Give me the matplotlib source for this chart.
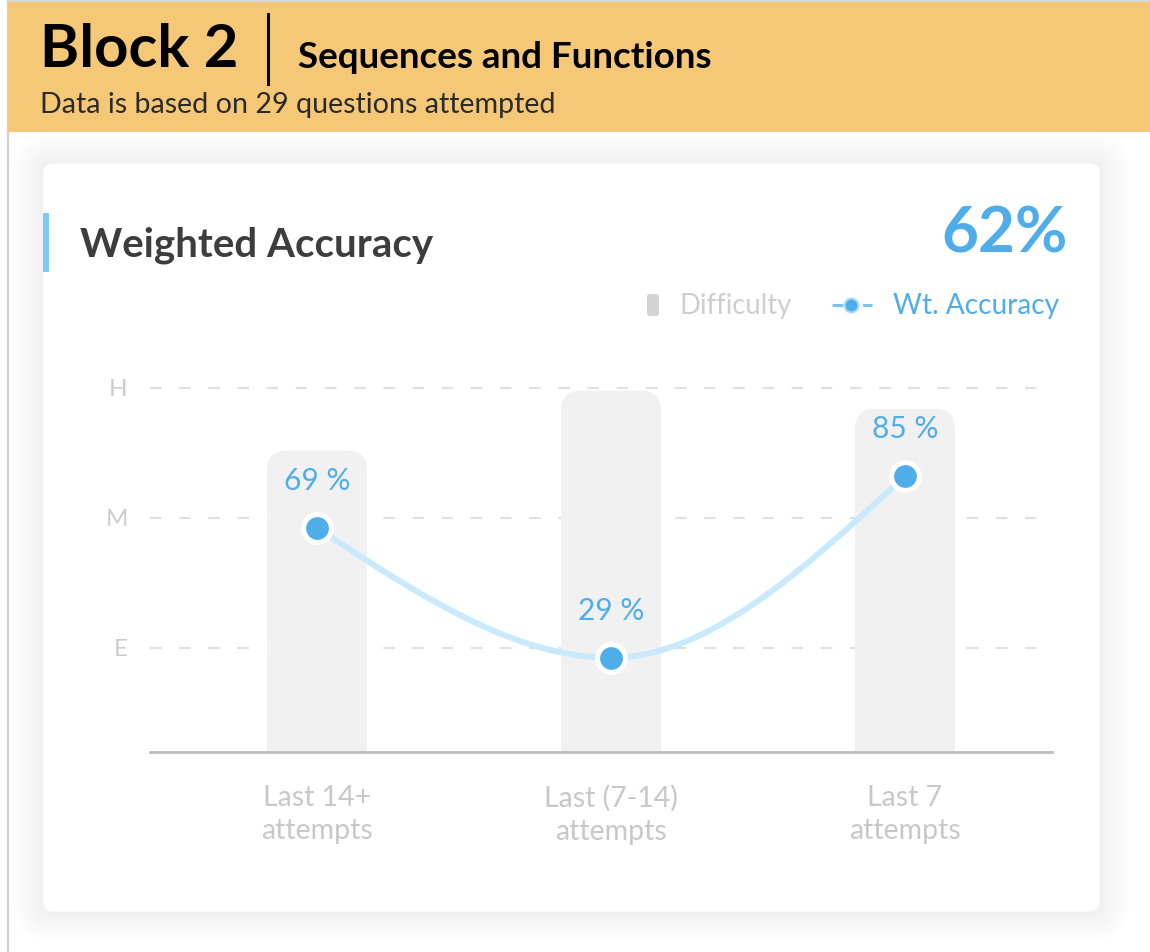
import matplotlib
matplotlib.use("Agg")
import matplotlib.pyplot as plt
import numpy as np
from matplotlib.patches import FancyBboxPatch, Rectangle
from matplotlib.lines import Line2D
from matplotlib.transforms import IdentityTransform

plt.rcParams['font.family'] = ['Lato', 'DejaVu Sans']

# data
categories = ["Last 14+\nattempts", "Last (7-14)\nattempts", "Last 7\nattempts"]
difficulty = [2.52, 2.98, 2.84]          # 1 = E, 2 = M, 3 = H
accuracy = [69, 29, 85]                  # weighted accuracy, %
level_ticks = [1, 2, 3]
level_labels = ["E", "M", "H"]
overall = 62
n_questions = 29
block_name = "Block 2"
block_topic = "Sequences and Functions"

W, H = 1150, 952
fig = plt.figure(figsize=(W / 100, H / 100), dpi=100)
fig.patch.set_facecolor("white")


def fx(x):
    return x / W


def fy(y):
    return 1 - y / H


def px_patch(x0, y0, x1, y1, r, z, **kw):
    # rounded box given in image pixels (y down)
    p = FancyBboxPatch((x0, H - y1), x1 - x0, y1 - y0,
                       boxstyle=f"round,pad=0,rounding_size={r}",
                       transform=IdentityTransform(), zorder=z, **kw)
    fig.add_artist(p)
    return p


# card with soft shadow
for i in range(14):
    g = 30 - i * 2.1
    px_patch(43 - g, 163 - g, 1100 + g, 912 + g, 10 + g, 0.1,
             facecolor="#000000", alpha=0.0026, lw=0)
px_patch(43, 163, 1100, 912, 10, 0.2, facecolor="white", edgecolor="#f4f4f4", lw=0.8)

# outer panel border + header band
fig.add_artist(Line2D([fx(8), fx(8)], [fy(0), fy(952)], color="#cfcfcf", lw=1.5,
                      zorder=3))
fig.add_artist(Rectangle((fx(8), fy(132)), fx(1150 - 8), 132 / H,
                         transform=fig.transFigure, color="#f5c878", lw=0, zorder=3))
fig.add_artist(Line2D([fx(8), fx(1150)], [fy(1), fy(1)], color="#d8d8d8", lw=1.5,
                      zorder=3))

fig.text(fx(40), fy(50), block_name, fontsize=43, fontweight="bold",
         color="black", va="center", ha="left", zorder=4)
fig.add_artist(Line2D([fx(268), fx(268)], [fy(14), fy(84)], color="black", lw=2.2,
                      zorder=4))
fig.text(fx(298), fy(58), block_topic, fontsize=26.5, fontweight="bold",
         color="black", va="center", ha="left", zorder=4)
fig.text(fx(40), fy(105), f"Data is based on {n_questions} questions attempted",
         fontsize=20.6, color="#2a2a2a", va="center", ha="left", zorder=4)

# card header
fig.add_artist(Rectangle((fx(43), fy(272)), fx(6), (272 - 213) / H,
                         transform=fig.transFigure, color="#7ecbf5", lw=0, zorder=3))
fig.text(fx(80), fy(245), "Weighted Accuracy", fontsize=29, fontweight="bold",
         color="#3d3d3d", va="center", ha="left", zorder=4)
fig.text(fx(1068), fy(234), f"{overall}%", fontsize=46, fontweight="bold",
         color="#4fadea", va="center", ha="right", zorder=4)

# legend
px_patch(647, 294, 659, 316, 3, 3, facecolor="#d3d3d3", lw=0)
fig.text(fx(680), fy(306), "Difficulty", fontsize=19.8, color="#cfcfcf",
         va="center", ha="left", zorder=4)
fig.add_artist(Line2D([fx(832), fx(872)], [fy(305), fy(305)], color="#7cc4f0",
                      lw=2.2, dashes=(3.5, 6.5), zorder=4))
fig.add_artist(Line2D([fx(851)], [fy(305)], marker="o", ms=10, color="#4fadea",
                      mec="#a9dafa", mew=1.5, zorder=4))
fig.text(fx(893), fy(306), "Wt. Accuracy", fontsize=20.2, color="#4fadea",
         va="center", ha="left", zorder=4)

# plot area
ax = fig.add_axes([fx(150), fy(752), fx(902), (752 - 362) / H])
ax.set_zorder(5)
x = np.arange(len(categories))
xlo, xhi = -167 / 294, (1052 - 317) / 294
d_lo, d_hi = 0.2, 3.2
ax.set_xlim(xlo, xhi)
ax.set_ylim(d_lo, d_hi)
ax.set_facecolor("none")
for s in ["top", "right", "left"]:
    ax.spines[s].set_visible(False)
ax.spines["bottom"].set_color("#bdbdbd")
ax.spines["bottom"].set_linewidth(2)
ax.spines["bottom"].set_zorder(5)

ax.set_yticks(level_ticks)
ax.set_yticklabels(level_labels, fontsize=17.5, color="#cccccc")
ax.tick_params(axis="y", length=0, pad=16)
ax.set_xticks(x)
ax.set_xticklabels(categories, fontsize=20.5, color="#c8c8c8", linespacing=1.3)
ax.tick_params(axis="x", length=0, pad=24)
for t in level_ticks:
    ax.axhline(t, color="#e0e0e0", lw=1.5, dashes=(5.5, 8.5), zorder=0)

# difficulty bars with rounded tops
bw = 100 / 294
px_per_x = 294
px_per_d = 130
r = 20 / px_per_x
for xi, d in zip(x, difficulty):
    bar = FancyBboxPatch((xi - bw / 2, d_lo - 0.3), bw, d - d_lo + 0.3,
                         boxstyle=f"round,pad=0,rounding_size={r}",
                         mutation_aspect=px_per_x / px_per_d,
                         facecolor="#f1f1f1", lw=0, zorder=1)
    ax.add_patch(bar)

# accuracy on a twin axis
ax2 = ax.twinx()
ax2.set_zorder(6)
ax2.set_ylim(0, 120)
ax2.set_xlim(xlo, xhi)
ax2.axis("off")

# monotone cubic (d3 monotoneX style) through the points
xs = x.astype(float)
ys = np.array(accuracy, dtype=float)
h = np.diff(xs)
s = np.diff(ys) / h
m = np.zeros_like(ys)
for i in range(1, len(ys) - 1):
    if s[i - 1] * s[i] > 0:
        p = (s[i - 1] * h[i] + s[i] * h[i - 1]) / (h[i - 1] + h[i])
        m[i] = np.sign(s[i]) * min(abs(s[i - 1]), abs(s[i]), 0.5 * abs(p))
m[0] = (3 * s[0] - m[1]) / 2
m[-1] = (3 * s[-1] - m[-2]) / 2
cx, cy = [], []
for i in range(len(xs) - 1):
    t = np.linspace(0, 1, 60)
    h00 = 2 * t**3 - 3 * t**2 + 1
    h10 = t**3 - 2 * t**2 + t
    h01 = -2 * t**3 + 3 * t**2
    h11 = t**3 - t**2
    cx.append(xs[i] + t * h[i])
    cy.append(h00 * ys[i] + h10 * h[i] * m[i] + h01 * ys[i + 1] + h11 * h[i] * m[i + 1])
ax2.plot(np.concatenate(cx), np.concatenate(cy), color="#c8eafc", lw=4.3,
         solid_capstyle="round", zorder=3)
ax2.plot(xs, ys, "o", ms=20, color="#4fadea", mec="white", mew=3.6, zorder=4)
for xi, a in zip(xs, accuracy):
    ax2.annotate(f"{a} %", (xi, a), xytext=(0, 34), textcoords="offset points",
                 ha="center", va="center", fontsize=21.5, color="#4fadea")

fig.savefig("out.png", dpi=100)
